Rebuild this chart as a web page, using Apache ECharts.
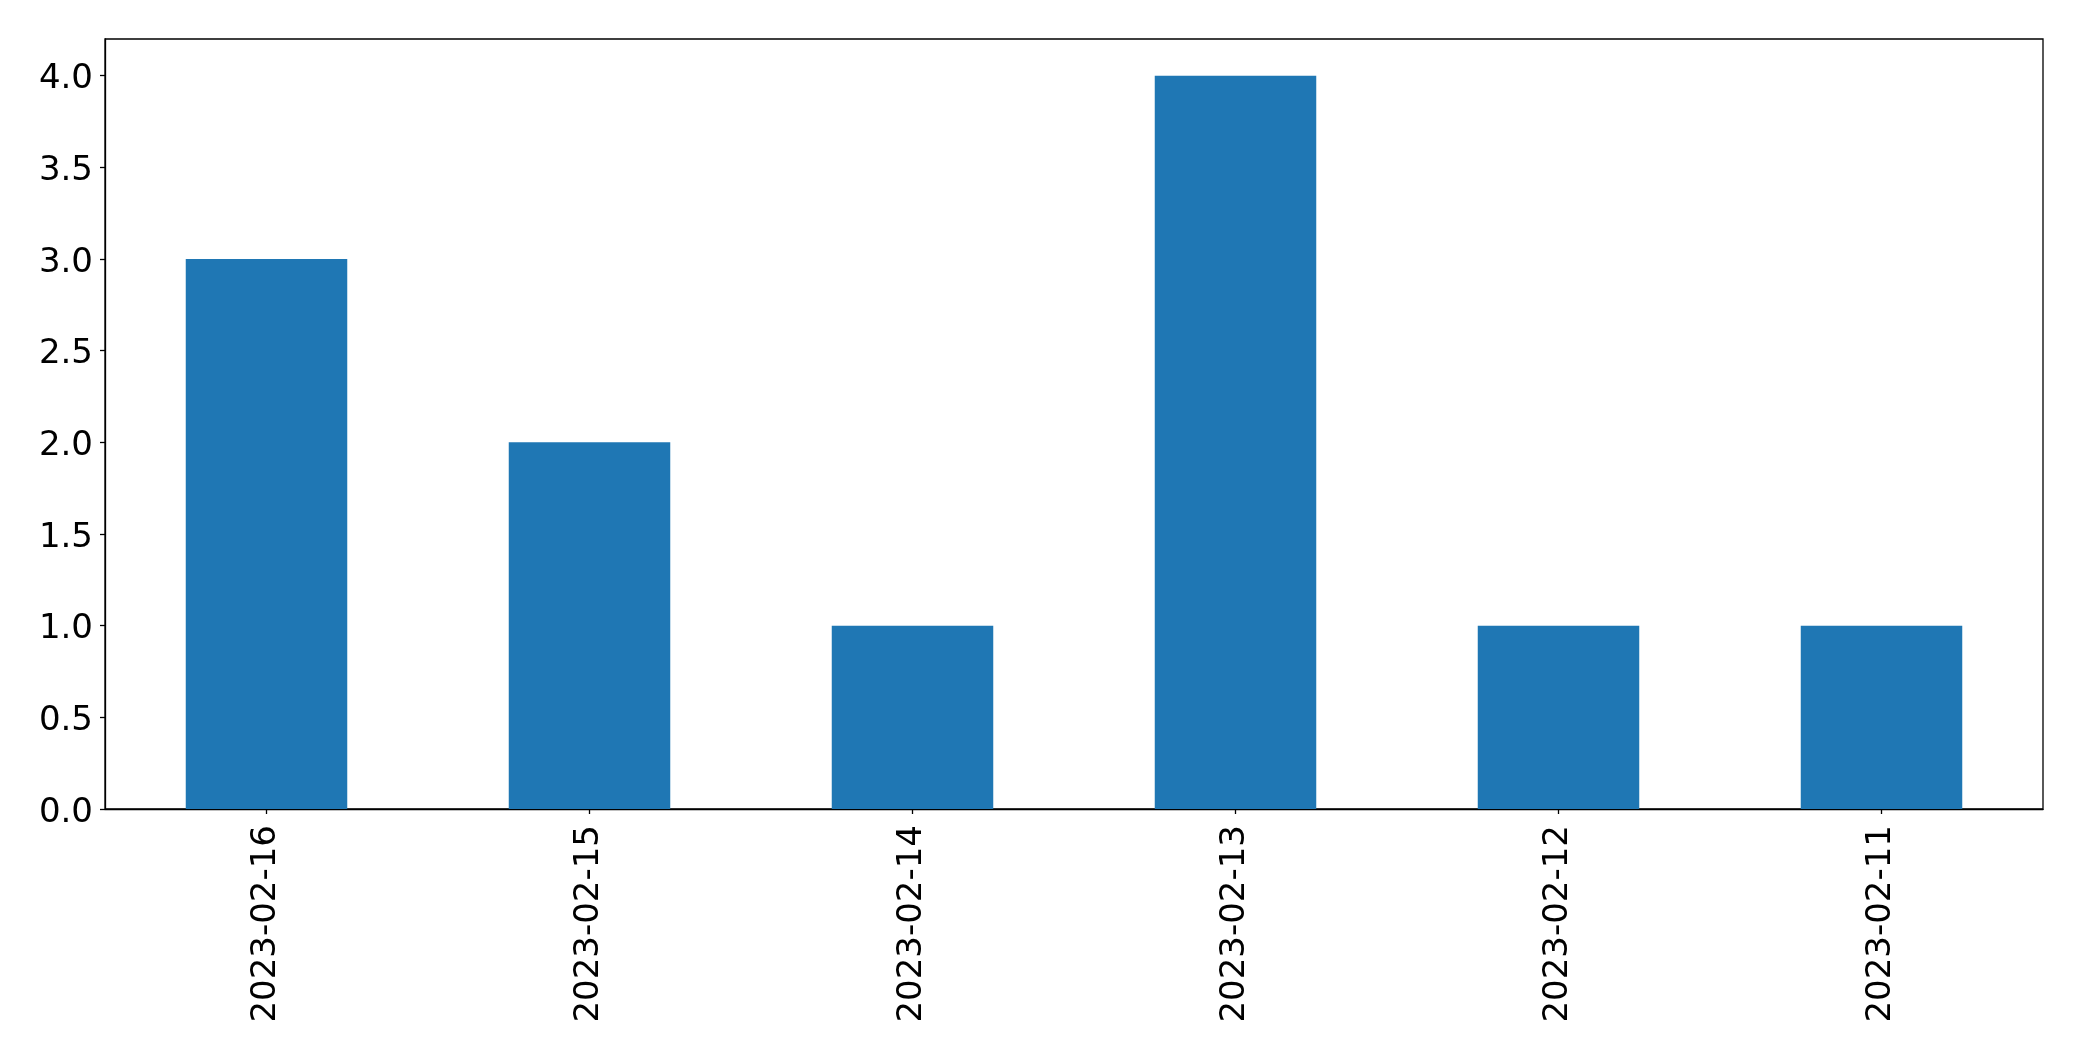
<!DOCTYPE html>
<html>
<head>
<meta charset="utf-8">
<script src="https://cdn.jsdelivr.net/npm/echarts@6/dist/echarts.min.js"></script>
<style>html,body{margin:0;padding:0;background:#fff}#c{width:2082px;height:1061px}</style>
</head>
<body>
<div id="c"></div>
<script>
const categories = ["2023-02-16","2023-02-15","2023-02-14","2023-02-13","2023-02-12","2023-02-11"];
const values = [3, 2, 1, 4, 1, 1];
const yTicks = [0, 0.5, 1, 1.5, 2, 2.5, 3, 3.5, 4];

const chart = echarts.init(document.getElementById('c'), null, {renderer: 'canvas'});
const font = 'DejaVu Sans';
chart.setOption({
  animation: false,
  grid: {left: 105, top: 39, width: 1938, height: 770, show: true, borderColor: '#000', borderWidth: 1.3, containLabel: false},
  xAxis: {
    type: 'category',
    data: categories,
    boundaryGap: true,
    axisLine: {show: true, lineStyle: {color: '#000', width: 1.3}},
    axisTick: {show: true, alignWithLabel: true, length: 5, lineStyle: {color: '#000', width: 1.3}},
    axisLabel: {rotate: 90, margin: 16, fontSize: 34, fontFamily: font, color: '#000', interval: 0}
  },
  yAxis: {
    type: 'value',
    min: 0, max: 4.2, interval: 0.5,
    splitLine: {show: false},
    axisLine: {show: true, lineStyle: {color: '#000', width: 1.3}},
    axisTick: {show: true, length: 5, lineStyle: {color: '#000', width: 1.3}},
    axisLabel: {
      margin: 12, fontSize: 34, fontFamily: font, color: '#000',
      showMaxLabel: false,
      rich: {a: {fontSize: 34, fontFamily: font, color: '#000', padding: [8, 0, 0, 0]}},
      formatter: function (v) { return yTicks.indexOf(v) >= 0 ? '{a|' + v.toFixed(1) + '}' : ''; }
    }
  },
  series: [{
    type: 'bar',
    data: values,
    barWidth: '50%',
    itemStyle: {color: '#1f77b4'}
  }]
});
</script>
</body>
</html>
